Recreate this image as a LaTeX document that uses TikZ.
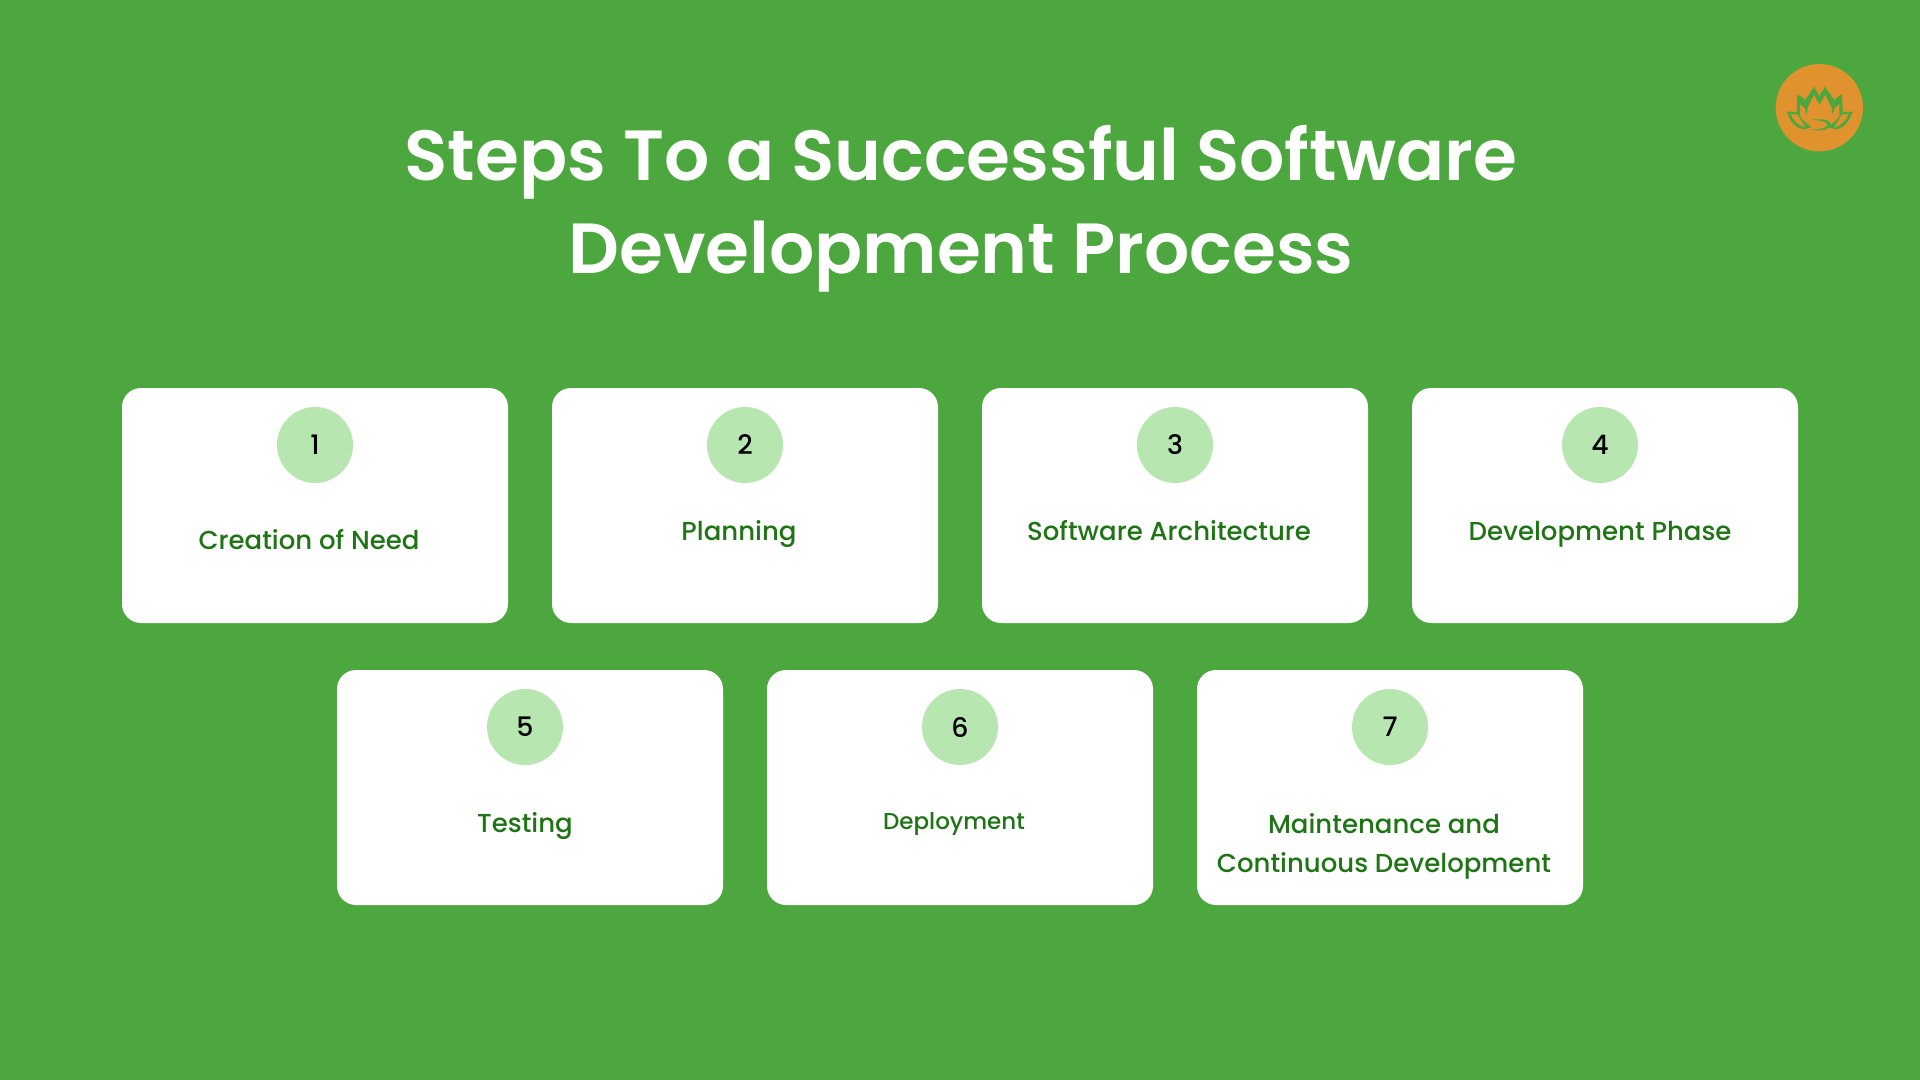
\documentclass[tikz,border=0pt]{standalone}
\usepackage{fontspec}
\setmainfont{Poppins}
\newfontfamily\titlefont{Poppins SemiBold}
\newfontfamily\labelfont{Poppins Medium}
\definecolor{bggreen}{HTML}{4CA73E}
\definecolor{badge}{HTML}{B7E6B0}
\definecolor{labelgreen}{HTML}{1F7415}
\definecolor{logoorange}{HTML}{E0922F}
\tikzset{
  card/.style={fill=white,rounded corners=9.5pt},
  badgecircle/.style={circle,fill=badge,minimum size=38pt,inner sep=0pt,text=black,font=\labelfont\fontsize{13.4}{13}\selectfont},
  steplabel/.style={text=labelgreen,font=\labelfont\fontsize{13}{19.6}\selectfont,align=center,inner sep=0pt,anchor=base},
  smalllabel/.style={text=labelgreen,font=\labelfont\fontsize{11.5}{16}\selectfont,align=center,inner sep=0pt,anchor=base},
  titletext/.style={text=white,font=\titlefont\fontsize{35.5}{46.5}\selectfont,align=center,inner sep=0pt},
}
\begin{document}
\begin{tikzpicture}[x=0.5pt,y=-0.5pt]
\useasboundingbox (0,0) rectangle (1920,1080);
\fill[bggreen] (0,0) rectangle (1920,1080);
\node[titletext] (title) at (961,209) {Steps To a Successful Software\\Development Process};
% cards
\foreach \n/\xa/\ya in {c1/122/388,c2/552/388,c3/982/388,c4/1412/388,c5/337/670,c6/767/670,c7/1197/670}{
  \fill[card] (\xa,\ya) rectangle ++(386,235);
}
% badges
\node[badgecircle] (b1) at (315,445) {1};
\node[badgecircle] (b2) at (745,445) {2};
\node[badgecircle] (b3) at (1175,445) {3};
\node[badgecircle] (b4) at (1600,445) {4};
\node[badgecircle] (b5) at (525,727) {5};
\node[badgecircle] (b6) at (960,727) {6};
\node[badgecircle] (b7) at (1390,727) {7};
% labels
\node[steplabel] (l1) at (309,549) {Creation of Need};
\node[steplabel] (l2) at (739,540) {Planning};
\node[steplabel] (l3) at (1169,540) {Software Architecture};
\node[steplabel] (l4) at (1600,540) {Development Phase};
\node[steplabel] (l5) at (525,832) {Testing};
\node[smalllabel] (l6) at (954,829) {Deployment};
\node[steplabel,anchor=center] (l7) at (1384,846.5) {Maintenance and\\Continuous Development};
% logo
\begin{scope}[shift={(1740,40)},x=0.16667pt,y=-0.16667pt]
\fill[logoorange] (238,203) circle (131);
\fill[bggreen] (172,162)--(196,180)--(222,140)--(238,168)--(255,140)--(282,180)--(306,162)--(308,218)--(298,226)--(298,192)--(284,204)--(278,224)--(274,200)--(255,164)--(238,194)--(222,164)--(204,200)--(200,224)--(194,204)--(180,192)--(180,226)--(170,218)--cycle;
\fill[bggreen] (140,215)--(172,216)--(186,238)--(214,262)--(190,268)..controls (160,262) and (150,240) .. (140,215)--cycle;
\fill[logoorange] (152,222)--(172,224)--(196,262)..controls (172,256) and (160,240) .. (152,222)--cycle;
\fill[bggreen] (338,215)--(306,216)--(292,238)--(264,262)--(288,268)..controls (318,262) and (328,240) .. (338,215)--cycle;
\fill[logoorange] (326,222)--(306,224)--(282,262)..controls (306,256) and (318,240) .. (326,222)--cycle;
\fill[bggreen] (216,240)..controls (240,234) and (270,240) .. (274,252)..controls (274,268) and (240,276) .. (214,268)..controls (240,270) and (266,262) .. (262,252)..controls (256,244) and (235,240) .. (216,240)--cycle;
\end{scope}
\end{tikzpicture}
\end{document}
